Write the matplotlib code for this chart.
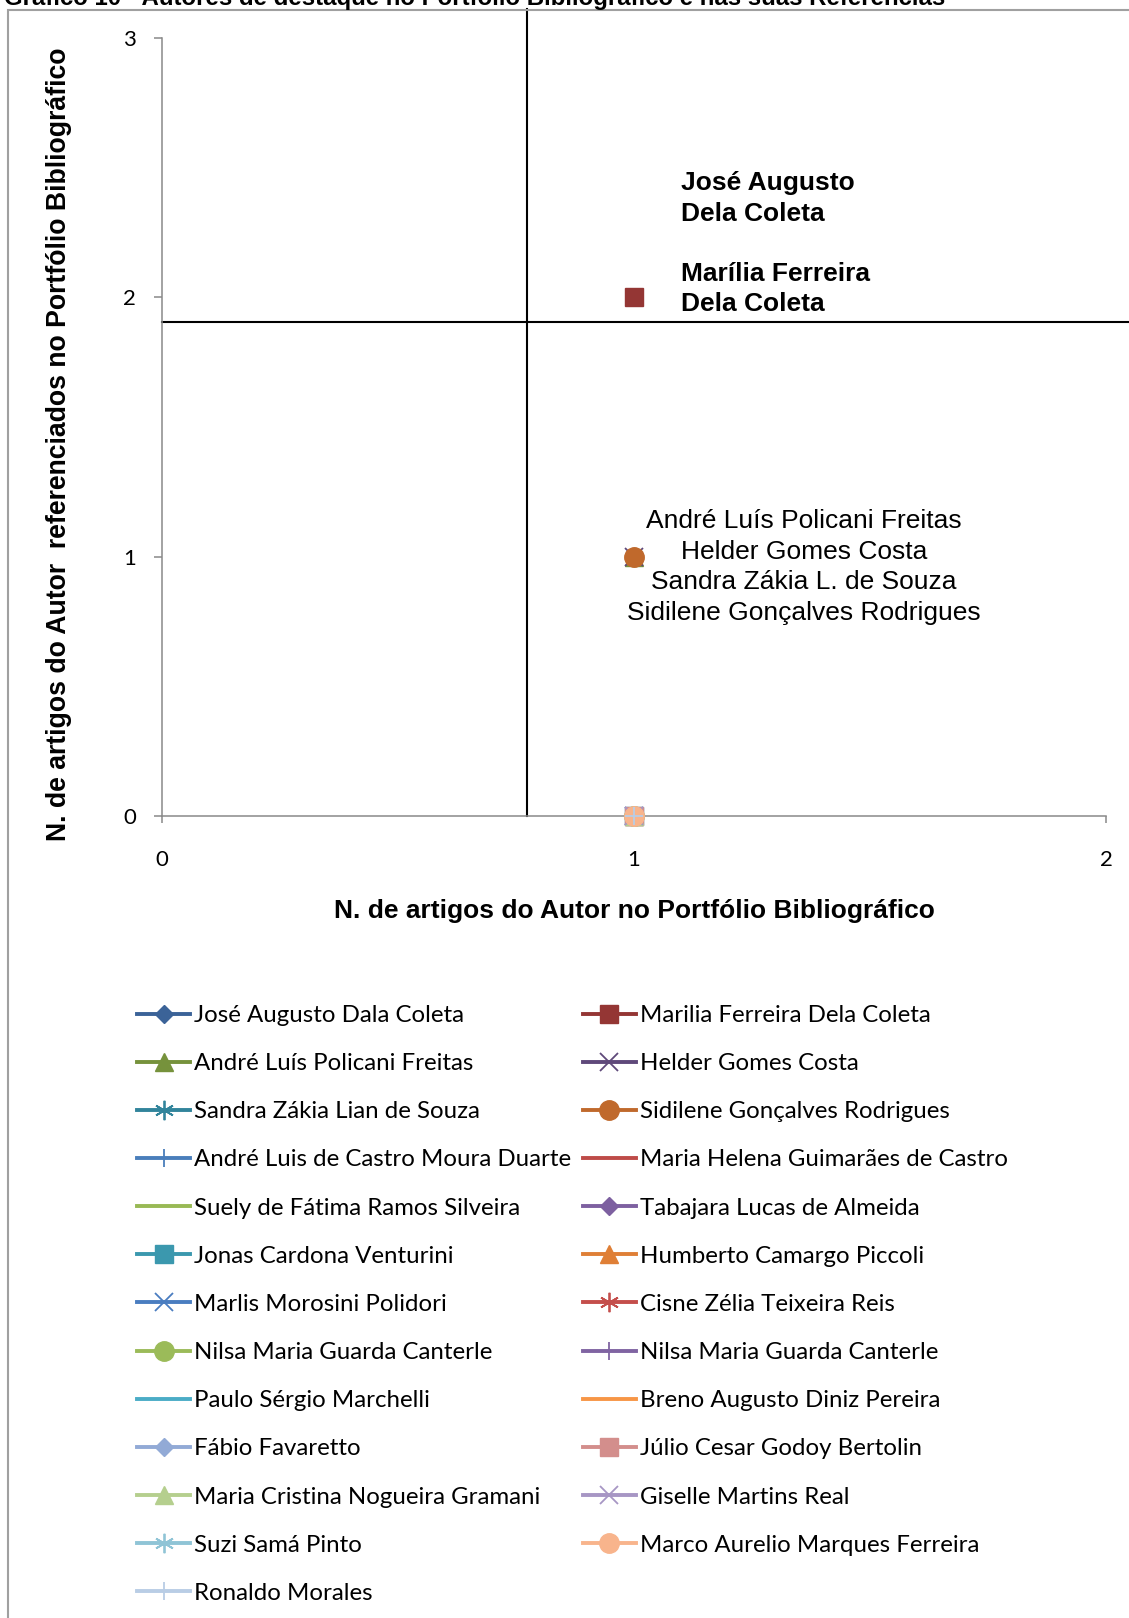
import matplotlib
matplotlib.use('Agg')
import matplotlib.pyplot as plt
from matplotlib.patches import Rectangle

W, H = 1129, 1618

authors = [
    "José Augusto Dala Coleta", "Marilia Ferreira Dela Coleta",
    "André Luís Policani Freitas", "Helder Gomes Costa",
    "Sandra Zákia Lian de Souza", "Sidilene Gonçalves Rodrigues",
    "André Luis de Castro Moura Duarte", "Maria Helena Guimarães de Castro",
    "Suely de Fátima Ramos Silveira", "Tabajara Lucas de Almeida",
    "Jonas Cardona Venturini", "Humberto Camargo Piccoli",
    "Marlis Morosini Polidori", "Cisne Zélia Teixeira Reis",
    "Nilsa Maria Guarda Canterle", "Nilsa Maria Guarda Canterle",
    "Paulo Sérgio Marchelli", "Breno Augusto Diniz Pereira",
    "Fábio Favaretto", "Júlio Cesar Godoy Bertolin",
    "Maria Cristina Nogueira Gramani", "Giselle Martins Real",
    "Suzi Samá Pinto", "Marco Aurelio Marques Ferreira",
    "Ronaldo Morales",
]
artigos_portfolio = [1, 1, 1, 1, 1, 1, 1, 1, 1, 1, 1, 1, 1, 1, 1, 1, 1, 1, 1, 1, 1, 1, 1, 1, 1]
artigos_referenciados = [2, 2, 1, 1, 1, 1, 0, 0, 0, 0, 0, 0, 0, 0, 0, 0, 0, 0, 0, 0, 0, 0, 0, 0, 0]

colors = [
    "#3B6398", "#943634", "#76923C", "#5F497A", "#31849B", "#C0692C",
    "#4A7EBB", "#BE4B48", "#98B954", "#7D60A0", "#3B98AE", "#DF7F36",
    "#4A7DC0", "#C44E4B", "#9BBB59", "#8064A2", "#4BACC6", "#F79646",
    "#92AAD6", "#D38E8C", "#B5CF8E", "#A796C4", "#8FC4D6", "#F8B48C",
    "#B9CDE5",
]
marker_cycle = ['D', 's', '^', 'x', (6, 2, 0), 'o', '+', '_', '_']
marker_sizes = {'D': 8.8, 's': 13.5, '^': 13.5, 'x': 12.5, 'o': 14, '+': 13.5, '_': 12}

x_ticks = [0, 1, 2]
y_ticks = [0, 1, 2, 3]
x_threshold = 0.773
y_threshold = 1.905

label_top = "José Augusto\nDela Coleta\n\nMarília Ferreira\nDela Coleta"
label_mid = ("André Luís Policani Freitas\nHelder Gomes Costa\n"
             "Sandra Zákia L. de Souza\nSidilene Gonçalves Rodrigues")

fig = plt.figure(figsize=(W / 100, H / 100), dpi=100)
fig.patch.set_facecolor('white')

x0, x1 = 162, 1106
y0, y1 = 816, 38
ax = fig.add_axes([x0 / W, 1 - y0 / H, (x1 - x0) / W, (y0 - y1) / H])
ax.set_xlim(0, 2)
ax.set_ylim(0, 3)
ax.set_xticks(x_ticks)
ax.set_yticks(y_ticks)

for s in ['top', 'right']:
    ax.spines[s].set_visible(False)
for s in ['left', 'bottom']:
    ax.spines[s].set_color('#898989')
    ax.spines[s].set_linewidth(1.1)

ax.tick_params(axis='both', direction='out', color='#898989', width=1.1,
               labelsize=16)
ax.tick_params(axis='y', length=5.8, pad=13)
ax.tick_params(axis='x', length=5.0, pad=19.5)
for lab in ax.get_xticklabels() + ax.get_yticklabels():
    lab.set_fontfamily('Lato')

# quadrant lines
ax.plot([x_threshold, x_threshold], [0, 3.11], color='black', lw=1.5,
        clip_on=False, zorder=2)
ax.plot([0, 2.1], [y_threshold, y_threshold], color='black', lw=1.5,
        clip_on=False, zorder=2)

handles = []
for i, name in enumerate(authors):
    m = marker_cycle[i % len(marker_cycle)]
    key = m if isinstance(m, str) else 'o'
    ms = marker_sizes.get(key, 13)
    mew = 1.3 if m in ('x', '+', '_') or not isinstance(m, str) else 1.0
    h, = ax.plot([artigos_portfolio[i]], [artigos_referenciados[i]],
                 linestyle='-', lw=2.8, color=colors[i], marker=m,
                 markersize=ms, markeredgewidth=mew,
                 markeredgecolor=colors[i], markerfacecolor=colors[i],
                 clip_on=False, zorder=3 + i * 0.01, label=name)
    handles.append(h)

ax.text(1.10, 2.207, label_top, fontsize=19, fontweight='bold',
        family='Liberation Sans', ha='left', va='center', linespacing=1.32)
ax.text(1.36, 0.960, label_mid, fontsize=19, family='Liberation Sans',
        ha='center', va='center', linespacing=1.34, multialignment='center')

ax.set_xlabel("N. de artigos do Autor no Portfólio Bibliográfico",
              fontsize=19, fontweight='bold', family='Liberation Sans',
              va='center')
ax.xaxis.set_label_coords(0.5, (y0 - 911) / (y0 - y1))
ax.set_ylabel("N. de artigos do Autor  referenciados no Portfólio Bibliográfico",
              fontsize=19.2, fontweight='bold', family='Liberation Sans',
              va='center')
ax.yaxis.set_label_coords((59 - x0) / (x1 - x0), (y0 - 444) / (y0 - y1))

# legend: Excel order is row-wise -> reorder for matplotlib column filling
order = list(range(0, len(authors), 2)) + list(range(1, len(authors), 2))
leg = fig.legend([handles[k] for k in order], [authors[k] for k in order],
                 ncol=2, loc='upper left',
                 bbox_to_anchor=(137 / W, 1 - 1005 / H),
                 frameon=False, borderpad=0, borderaxespad=0,
                 handlelength=2.21, handletextpad=0.17, columnspacing=0.47,
                 labelspacing=1.13, prop={'family': 'Lato', 'size': 17.3})

# outer frame
fig.add_artist(Rectangle((8 / W, -0.2), 1.5, 0.2 + (1 - 10 / H),
                         transform=fig.transFigure, fill=False,
                         edgecolor='#A0A0A0', lw=1.5, clip_on=False))

fig.text(4 / W, 1 - 4.5 / H,
         "Gráfico 10 - Autores de destaque no Portfólio Bibliográfico e nas suas Referências",
         fontsize=17.3, fontweight='bold', family='Liberation Sans',
         ha='left', va='baseline')

fig.savefig('out.png', dpi=100)
